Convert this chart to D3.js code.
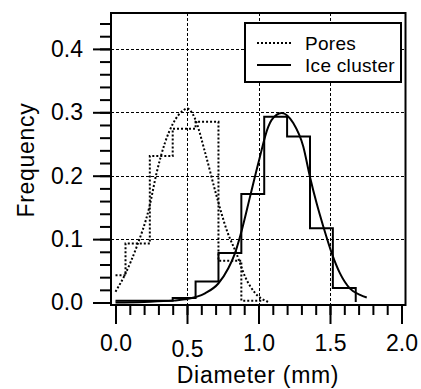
<!DOCTYPE html>
<html>
<head>
<meta charset="utf-8">
<script src="https://cdn.jsdelivr.net/npm/d3@7"></script>
<style>
  body { margin: 0; background: #fff; }
  svg { display: block; font-family: "Liberation Sans", Arial, Helvetica, sans-serif; }
</style>
</head>
<body>
<svg id="chart" width="421" height="389"></svg>
<script>
/*
  values: histogram steps (left edge + height)
  and sampled points along the two fitted curves
*/
var poresEdges = [0, 0.07, 0.24, 0.40, 0.56, 0.72, 0.88, 1.03];
var poresFreq = [0.043, 0.093, 0.231, 0.274, 0.285, 0.066, 0.003, 0.003];

var iceEdges = [0, 0.08, 0.24, 0.40, 0.56, 0.72, 0.88, 1.04, 1.20, 1.36, 1.52, 1.68];
var iceFreq = [0.003, 0.003, 0.003, 0.007, 0.033, 0.078, 0.171, 0.293, 0.262, 0.117, 0.023, 0.001];

var poresFitX = [0.0, 0.066, 0.148, 0.236, 0.288, 0.346, 0.404, 0.474, 0.50, 0.556, 0.626, 0.708, 0.778, 0.848, 0.906, 0.976, 1.057, 1.08];
var poresFitY = [0.017, 0.044, 0.088, 0.150, 0.205, 0.252, 0.283, 0.303, 0.306, 0.290, 0.237, 0.167, 0.114, 0.076, 0.041, 0.015, 0.002, 0.0];

var iceFitX = [0.0, 0.2, 0.4, 0.486, 0.626, 0.719, 0.789, 0.836, 0.883, 0.941, 0.999, 1.068, 1.092, 1.162, 1.243, 1.313, 1.36, 1.407, 1.453, 1.512, 1.570, 1.640, 1.710, 1.757];
var iceFitY = [0.0, 0.001, 0.003, 0.005, 0.0145, 0.030, 0.054, 0.078, 0.114, 0.167, 0.220, 0.277, 0.288, 0.299, 0.283, 0.246, 0.198, 0.156, 0.120, 0.078, 0.046, 0.022, 0.012, 0.008];

var xMajor = [0, 0.5, 1.0, 1.5, 2.0];
var xMinor = d3.range(0, 2.01, 0.1);
var yMajor = [0, 0.1, 0.2, 0.3, 0.4];
var yMinor = d3.range(0, 0.441, 0.02);
var xGrid = [0.5, 1.0, 1.5];
var yGrid = [0.1, 0.2, 0.3, 0.4];

var legendNames = ["Pores", "Ice cluster"];
var legendDash = ["2,2", null];

/* ========================================================================== */

var svg = d3.select("#chart");
var frame = { left: 111, right: 405.5, top: 13, bottom: 305 };

var x = d3.scaleLinear().domain([-0.0315, 2.028]).range([frame.left, frame.right]);
var y = d3.scaleLinear().domain([-0.0039, 0.4566]).range([frame.bottom, frame.top]);

svg.append("defs").append("clipPath")
    .attr("id", "plot-clip")
    .append("rect")
    .attr("x", frame.left)
    .attr("y", frame.top)
    .attr("width", frame.right - frame.left)
    .attr("height", frame.bottom - frame.top);

// grid
var grid = svg.append("g")
    .attr("stroke", "#000")
    .attr("stroke-width", 1)
    .attr("stroke-dasharray", "3,2");

grid.selectAll(".gx").data(xGrid).enter().append("line")
    .attr("x1", function (d) { return Math.round(x(d)) + 0.5; })
    .attr("x2", function (d) { return Math.round(x(d)) + 0.5; })
    .attr("y1", frame.top)
    .attr("y2", frame.bottom);

grid.selectAll(".gy").data(yGrid).enter().append("line")
    .attr("y1", function (d) { return Math.round(y(d)) + 0.5; })
    .attr("y2", function (d) { return Math.round(y(d)) + 0.5; })
    .attr("x1", frame.left)
    .attr("x2", frame.right);

// data traces
var plot = svg.append("g").attr("clip-path", "url(#plot-clip)");

var stepLine = d3.line()
    .x(function (d) { return x(d[0]); })
    .y(function (d) { return y(d[1]); })
    .curve(d3.curveStepAfter);

var fitLine = d3.line()
    .x(function (d) { return x(d[0]); })
    .y(function (d) { return y(d[1]); })
    .curve(d3.curveMonotoneX);

plot.append("path")
    .attr("d", stepLine(d3.zip(poresEdges, poresFreq)))
    .attr("fill", "none")
    .attr("stroke", "#000")
    .attr("stroke-width", 2)
    .attr("stroke-dasharray", "2,2");

plot.append("path")
    .attr("d", fitLine(d3.zip(poresFitX, poresFitY)))
    .attr("fill", "none")
    .attr("stroke", "#000")
    .attr("stroke-width", 2)
    .attr("stroke-dasharray", "2,2");

plot.append("path")
    .attr("d", stepLine(d3.zip(iceEdges, iceFreq)))
    .attr("fill", "none")
    .attr("stroke", "#000")
    .attr("stroke-width", 2);

plot.append("path")
    .attr("d", fitLine(d3.zip(iceFitX, iceFitY)))
    .attr("fill", "none")
    .attr("stroke", "#000")
    .attr("stroke-width", 2);

// axes
var fmt = d3.format(".1f");

svg.append("g")
    .attr("transform", "translate(" + frame.left + ",0)")
    .call(d3.axisLeft(y).tickValues(yMinor).tickSize(11).tickFormat(""))
    .call(styleAxis);

svg.append("g")
    .attr("transform", "translate(" + frame.left + ",0)")
    .call(d3.axisLeft(y).tickValues(yMajor).tickSize(18).tickPadding(10).tickFormat(fmt))
    .call(styleAxis);

svg.append("g")
    .attr("transform", "translate(0," + frame.bottom + ")")
    .call(d3.axisBottom(x).tickValues(xMinor).tickSize(10).tickFormat(""))
    .call(styleAxis);

var xAxisMajor = svg.append("g")
    .attr("transform", "translate(0," + frame.bottom + ")")
    .call(d3.axisBottom(x).tickValues(xMajor).tickSize(19).tickPadding(11).tickFormat(fmt))
    .call(styleAxis);

// the 0.5 label sits a little lower in the original
xAxisMajor.selectAll(".tick text")
    .filter(function (d) { return d === 0.5; })
    .attr("y", 36);

function styleAxis (g) {
    g.select(".domain").remove();
    g.selectAll(".tick line").attr("stroke", "#000").attr("stroke-width", 2);
    g.selectAll(".tick text")
        .attr("fill", "#000")
        .style("font-size", "23px");
}

// axis titles
svg.append("text")
    .attr("x", 258)
    .attr("y", 383)
    .attr("text-anchor", "middle")
    .style("font-size", "23px")
    .style("letter-spacing", "0.7px")
    .text("Diameter (mm)");

svg.append("text")
    .attr("transform", "translate(34,160) rotate(-90)")
    .attr("text-anchor", "middle")
    .style("font-size", "23px")
    .style("letter-spacing", "0.7px")
    .text("Frequency");

// frame
svg.append("rect")
    .attr("x", frame.left)
    .attr("y", frame.top)
    .attr("width", frame.right - frame.left)
    .attr("height", frame.bottom - frame.top)
    .attr("fill", "none")
    .attr("stroke", "#000")
    .attr("stroke-width", 2);

// legend
var legend = svg.append("g").attr("transform", "translate(245,23)");

legend.append("rect")
    .attr("width", 156)
    .attr("height", 59)
    .attr("fill", "#fff")
    .attr("stroke", "#000")
    .attr("stroke-width", 2);

var rows = legend.selectAll(".row").data(legendNames).enter().append("g")
    .attr("transform", function (d, i) { return "translate(0," + (20 + i * 22) + ")"; });

rows.append("line")
    .attr("x1", 12)
    .attr("x2", 46)
    .attr("stroke", "#000")
    .attr("stroke-width", 2)
    .attr("stroke-dasharray", function (d, i) { return legendDash[i]; });

rows.append("text")
    .attr("x", 60)
    .attr("dy", "0.35em")
    .style("font-size", "19px")
    .style("letter-spacing", "0.3px")
    .text(function (d) { return d; });
</script>
</body>
</html>
